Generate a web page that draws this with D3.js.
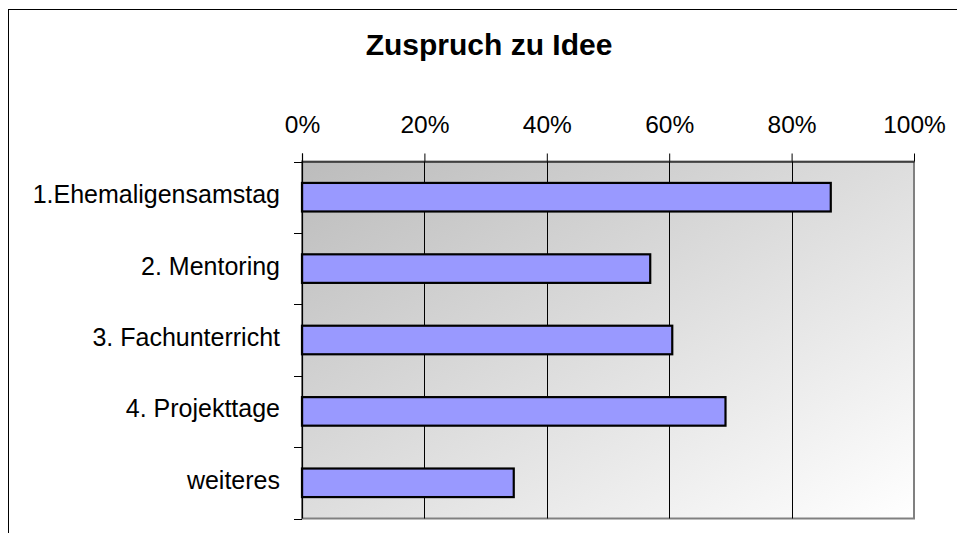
<!DOCTYPE html>
<html>
<head>
<meta charset="utf-8">
<script src="https://cdn.jsdelivr.net/npm/d3@7"></script>
<style>
  html, body { margin: 0; padding: 0; background: #fff; }
  svg { display: block; font-family: "Liberation Sans", Arial, sans-serif; }
</style>
</head>
<body>
<svg id="chart" width="957" height="533"></svg>
<script>
const title = "Zuspruch zu Idee";
const categories = ["1.Ehemaligensamstag", "2. Mentoring", "3. Fachunterricht", "4. Projekttage", "weiteres"];
const values = [0.864, 0.569, 0.605, 0.692, 0.346];
const tickValues = [0, 0.2, 0.4, 0.6, 0.8, 1.0];
const tickLabels = ["0%", "20%", "40%", "60%", "80%", "100%"];

const svg = d3.select("#chart");
const W = 957, H = 533;
const plot = { left: 302, right: 914, top: 161.5, bottom: 518.5 };

// outer chart border (extends beyond the visible area)
svg.append("rect")
  .attr("x", 8.5).attr("y", 9.5)
  .attr("width", W + 20).attr("height", H + 20)
  .attr("fill", "#fff").attr("stroke", "#000").attr("stroke-width", 1);

// title
svg.append("text")
  .attr("x", 489).attr("y", 55)
  .attr("text-anchor", "middle")
  .attr("font-size", 30).attr("font-weight", "bold")
  .attr("fill", "#000")
  .text(title);

const x = d3.scaleLinear().domain([0, 1]).range([plot.left, plot.right]);
const y = d3.scaleBand().domain(categories)
  .range([plot.top, plot.bottom])
  .paddingInner(0.6).paddingOuter(0.3);

// gradient background
const defs = svg.append("defs");
const grad = defs.append("linearGradient").attr("id", "bg")
  .attr("x1", 0).attr("y1", 0).attr("x2", 1).attr("y2", 1);
grad.append("stop").attr("offset", "0%").attr("stop-color", "#bcbcbc");
grad.append("stop").attr("offset", "100%").attr("stop-color", "#ffffff");

svg.append("rect")
  .attr("x", plot.left).attr("y", plot.top)
  .attr("width", plot.right - plot.left).attr("height", plot.bottom - plot.top)
  .attr("fill", "url(#bg)")
  .attr("stroke", "#808080").attr("stroke-width", 2);

// gridlines
svg.append("g").selectAll("line")
  .data(tickValues.slice(1, -1))
  .join("line")
  .attr("x1", d => Math.round(x(d)) + 0.5).attr("x2", d => Math.round(x(d)) + 0.5)
  .attr("y1", plot.top).attr("y2", plot.bottom)
  .attr("stroke", "#000").attr("stroke-width", 1);

// bars
svg.append("g").selectAll("rect")
  .data(categories.map((c, i) => ({ c, v: values[i] })))
  .join("rect")
  .attr("x", x(0))
  .attr("y", d => y(d.c))
  .attr("width", d => x(d.v) - x(0))
  .attr("height", y.bandwidth())
  .attr("fill", "#9999ff")
  .attr("stroke", "#000").attr("stroke-width", 2.2);

// top value axis
const xAxis = d3.axisTop(x)
  .tickValues(tickValues)
  .tickFormat((d, i) => tickLabels[i])
  .tickSize(8).tickSizeOuter(0).tickPadding(21);
const gx = svg.append("g").attr("transform", `translate(0,${plot.top})`).call(xAxis);
gx.select(".domain").attr("stroke", "#000").attr("stroke-width", 1.2);
gx.selectAll(".tick line").attr("stroke", "#000");
gx.selectAll(".tick text").attr("font-size", 24.5).attr("fill", "#000")
  .attr("font-family", "'Liberation Sans', Arial, sans-serif");

// left category axis with ticks at boundaries
const yLine = svg.append("g");
yLine.append("line")
  .attr("x1", plot.left + 0.5).attr("x2", plot.left + 0.5)
  .attr("y1", plot.top - 8).attr("y2", plot.bottom)
  .attr("stroke", "#000").attr("stroke-width", 1.2);
const bounds = categories.map(c => y(c) - y.step() * y.paddingOuter()).concat([plot.bottom]);
yLine.selectAll("line.tk").data(bounds).join("line").attr("class", "tk")
  .attr("x1", plot.left - 8).attr("x2", plot.left)
  .attr("y1", d => Math.round(d) + 0.5).attr("y2", d => Math.round(d) + 0.5)
  .attr("stroke", "#000").attr("stroke-width", 1);

yLine.selectAll("text").data(categories).join("text")
  .attr("x", 280)
  .attr("y", d => y(d) + y.bandwidth() / 2 + 6)
  .attr("text-anchor", "end")
  .attr("font-size", 25)
  .attr("fill", "#000")
  .text(d => d);
</script>
</body>
</html>
